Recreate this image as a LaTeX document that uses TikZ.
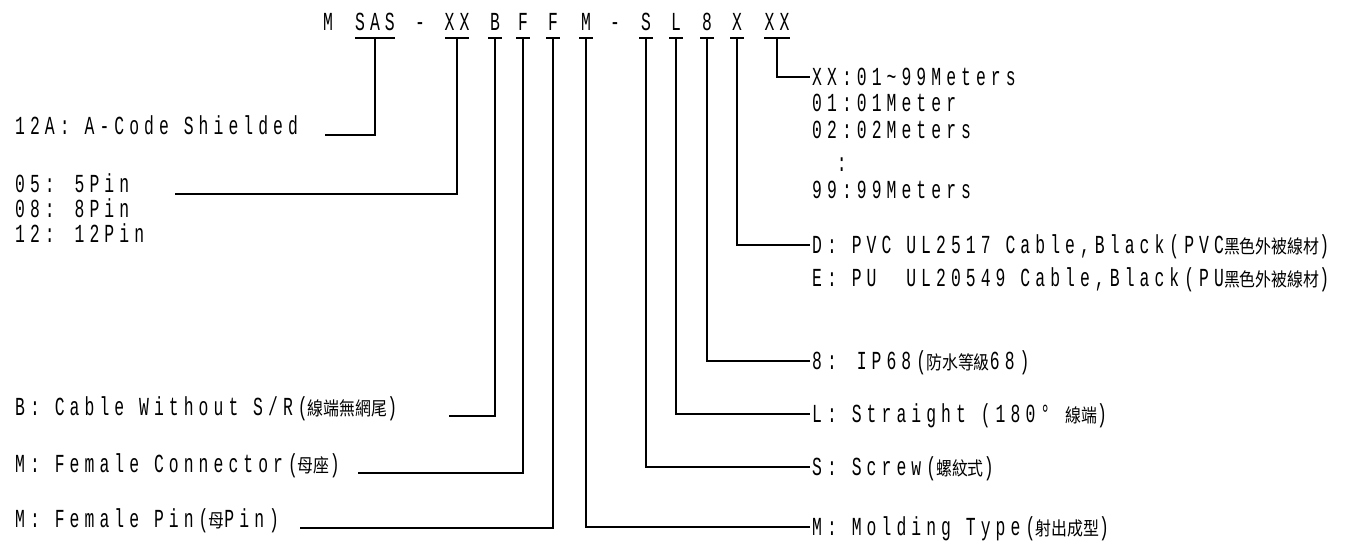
\documentclass[tikz,border=0pt]{standalone}
\usepackage{fontspec}
\setmainfont{Liberation Mono}[FakeStretch=0.63,LetterSpace=19.5]
\newfontfamily\cjk{Noto Sans CJK TC}[Scale=0.72,FakeStretch=0.85]
\usepackage{tikz}
\usetikzlibrary{positioning,calc}

\tikzset{
  code/.style={font=\fontsize{26}{30}\selectfont, inner sep=0pt},
  desc/.style={font=\fontsize{26}{30}\selectfont, inner xsep=2pt, inner ysep=0pt,
    text height=17pt, text depth=0pt},
  lead/.style={line width=1.4pt}
}

\begin{document}
\begin{tikzpicture}[x=1pt, y=-1pt]
    \useasboundingbox (0,0) rectangle (1361,549);
    % Part number letters (x = centre of each field)
    \foreach \nm/\xpos/\txt in {m1/328/M, sas/375/SAS, d1/420/-, xx1/457/XX, b/495/B,
        f1/523/F, f2/553/F, m2/586/M, d2/615/-, s/646/S, l/676/L, ip/707/8, x/737/X, xx2/777/XX} {
      \node[code, anchor=base] (\nm) at (\xpos,30) {\txt};
    }
    % Underlines, with a named point in the middle of each
    \foreach \nm/\xpos/\hw in {sas/375/20, xx1/457/12, b/495/7, f1/523/7, f2/553/7, m2/586/7,
        s/646/7, l/676/7, ip/707/7, x/737/7, xx2/777/13} {
      \draw[lead] (\xpos-\hw,38) -- (\xpos+\hw,38);
      \coordinate (\nm-u) at (\xpos,38);
    }
    % Left hand descriptions
    \node[desc, anchor=base west] (shield) at (13,134) {12A: A-Code Shielded};
    \node[desc, anchor=base west] (pin5) at (13,192) {05: 5Pin};
    \node[desc, anchor=base west] (pin8) at (13,217) {08: 8Pin};
    \node[desc, anchor=base west] (pin12) at (13,242) {12: 12Pin};
    \node[desc, anchor=base west] (cable) at (13,415) {B: Cable Without S/R({\cjk 線端無網尾})};
    \node[desc, anchor=base west] (conn) at (13,472) {M: Female Connector({\cjk 母座})};
    \node[desc, anchor=base west] (fpin) at (13,527) {M: Female Pin({\cjk 母}Pin)};
    \coordinate (shield-e) at (325,135);
    \coordinate (pin5-e) at (175,194);
    \coordinate (cable-e) at (449,416);
    \coordinate (conn-e) at (358,473);
    \coordinate (fpin-e) at (300,528);
    % Right hand descriptions
    \node[desc, anchor=west] (len) at (810,77) {XX:01\textasciitilde99Meters};
    \node[desc, anchor=west] (len1) at (810,103) {01:01Meter};
    \node[desc, anchor=west] (len2) at (810,130) {02:02Meters};
    \node[desc, anchor=base west] (lendots) at (810,171) {\hphantom{02}:};
    \node[desc, anchor=west] (len99) at (810,190) {99:99Meters};
    \node[desc, anchor=west] (pvc) at (810,245) {D: PVC UL2517 Cable,Black(PVC{\cjk 黑色外被線材})};
    \node[desc, anchor=west] (pu) at (810,278) {E: \rlap{PU}\hphantom{PVC} UL20549 Cable,Black(PU{\cjk 黑色外被線材})};
    \node[desc, anchor=west] (ipx) at (810,361) {8: IP68({\cjk 防水等級}68)};
    \node[desc, anchor=west] (str) at (810,414) {L: Straight (180° {\cjk 線端})};
    \node[desc, anchor=west] (screw) at (810,467) {S: Screw({\cjk 螺紋式})};
    \node[desc, anchor=west] (mold) at (810,527) {M: Molding Type({\cjk 射出成型})};
    % Leaders
    \draw[lead] (sas-u) |- (shield-e);
    \draw[lead] (xx1-u) |- (pin5-e);
    \draw[lead] (b-u) |- (cable-e);
    \draw[lead] (f1-u) |- (conn-e);
    \draw[lead] (f2-u) |- (fpin-e);
    \draw[lead] (m2-u) |- (mold.west);
    \draw[lead] (s-u) |- (screw.west);
    \draw[lead] (l-u) |- (str.west);
    \draw[lead] (ip-u) |- (ipx.west);
    \draw[lead] (x-u) |- (pvc.west);
    \draw[lead] (xx2-u) |- (len.west);
\end{tikzpicture}
\end{document}
